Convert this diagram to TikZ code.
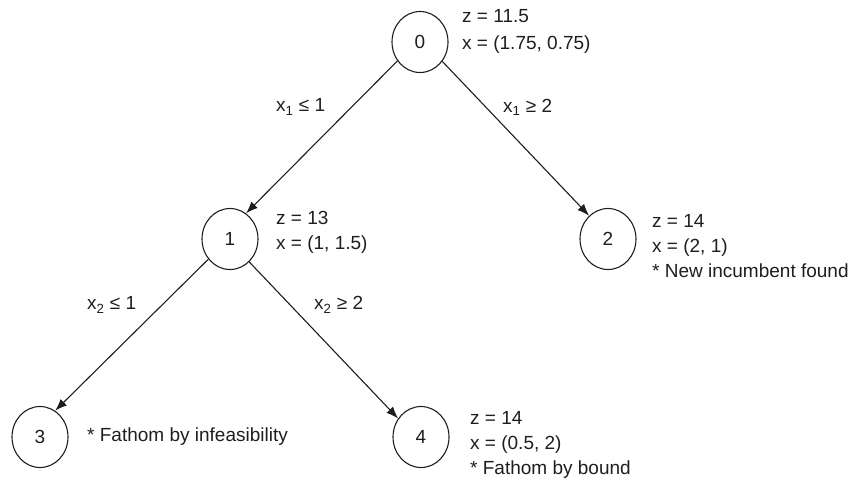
\documentclass[tikz,border=0pt]{standalone}
\usepackage{fontspec}
\setmainfont{Liberation Sans}
\usetikzlibrary{arrows.meta,shapes.geometric}
\definecolor{ink}{HTML}{1E1E1E}
\tikzset{
  bbnode/.style={ellipse,draw=ink,line width=1.1pt,minimum width=56pt,minimum height=61pt,inner sep=0pt,font=\fontsize{19}{23}\selectfont,text=ink},
  info/.style={anchor=west,align=left,inner sep=0pt,font=\fontsize{19}{25}\selectfont,text=ink},
  cond/.style={anchor=west,inner sep=0pt,font=\fontsize{19}{23}\selectfont,text=ink},
  branch/.style={draw=ink,line width=1.1pt,-{Latex[length=12pt,width=9pt]}}
}
\begin{document}
\begin{tikzpicture}[x=1pt,y=-1pt]
\useasboundingbox (0,0) rectangle (853,485);
\node[bbnode] (n0) at (420,42) {0};
\node[bbnode] (n1) at (230,239) {1};
\node[bbnode] (n2) at (608,239) {2};
\node[bbnode] (n3) at (40,437) {3};
\node[bbnode] (n4) at (421,437) {4};

\node[info,font=\fontsize{19}{27}\selectfont] (t0) at (462,31) {z = 11.5\\x = (1.75, 0.75)};
\node[info] (t1) at (276,232) {z = 13\\x = (1, 1.5)};
\node[info] (t2) at (652,246) {z = 14\\x = (2, 1)\\* New incumbent found};
\node[info] (t3) at (87,437) {* Fathom by infeasibility};
\node[info] (t4) at (470,445) {z = 14\\x = (0.5, 2)\\* Fathom by bound};

\node[cond] (c1) at (276,107) {x\textsubscript{1} ≤ 1};
\node[cond] (c2) at (503,107) {x\textsubscript{1} ≥ 2};
\node[cond] (c3) at (87,305) {x\textsubscript{2} ≤ 1};
\node[cond] (c4) at (314,305) {x\textsubscript{2} ≥ 2};

\draw[branch] (n0.220) -- (n1.58);
\draw[branch] (n0.-41) -- (n2.129);
\draw[branch] (n1.223) -- (n3.60);
\draw[branch] (n1.-50) -- (n4.141);
\end{tikzpicture}
\end{document}
